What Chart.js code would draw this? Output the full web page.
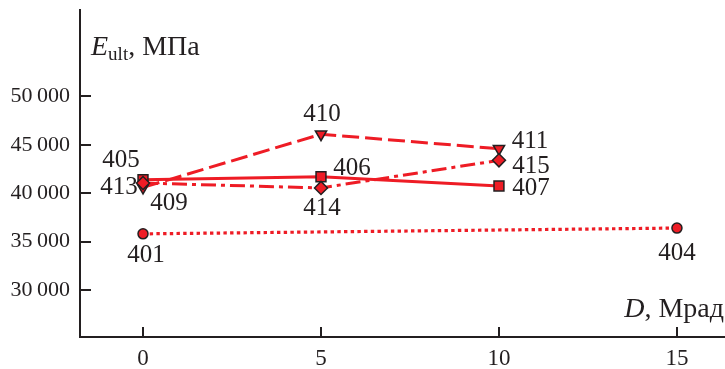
<!DOCTYPE html>
<html>
<head>
<meta charset="utf-8">
<script src="https://cdn.jsdelivr.net/npm/chart.js@4/dist/chart.umd.min.js"></script>
<style>
  html, body { margin: 0; padding: 0; background: #fff; }
  #wrap { width: 725px; height: 369px; position: relative; }
</style>
</head>
<body>
<div id="wrap"><canvas id="c"></canvas></div>
<script>
// Dose, Mrad
const doses = [0, 5, 10];
const dosesLong = [0, 15];

// Ultimate modulus E_ult, MPa, per sample group
const solidValues = [41400, 41700, 40750];     // 405, 406, 407
const dashedValues = [40600, 46100, 44600];    // 409, 410, 411
const dashDotValues = [41050, 40550, 43400];   // 413, 414, 415
const dottedValues = [35800, 36400];           // 401, 404

// Sample numbers shown next to the points
const solidIds = ['405', '406', '407'];
const dashedIds = ['409', '410', '411'];
const dashDotIds = ['413', '414', '415'];
const dottedIds = ['401', '404'];

// Tick values
const xTicks = [0, 5, 10, 15];
const yTicks = [30000, 35000, 40000, 45000, 50000];

const RED = '#ee1c25';
const INK = '#231f20';
const SERIF = '"Liberation Serif", "Times New Roman", serif';

// Where each sample number sits relative to its point (dx, dy in px)
const labelPlacement = {
  '405': [-22, -19], '406': [31, -8], '407': [32, 2],
  '409': [26, 16], '410': [1, -20], '411': [31, -7],
  '413': [-24, 4], '414': [1, 21], '415': [32, 6],
  '401': [3, 22], '404': [0, 25]
};

function pts(xs, ys) { return xs.map((x, i) => ({ x: x, y: ys[i] })); }

function fmt(v) {
  const s = String(v);
  return s.length > 3 ? s.slice(0, s.length - 3) + '\u2009' + s.slice(-3) : s;
}

function noPad(s) {
  s.paddingLeft = 0; s.paddingRight = 0; s.paddingTop = 0; s.paddingBottom = 0;
}

const markerBase = {
  borderColor: RED,
  pointBackgroundColor: RED,
  pointBorderColor: INK,
  pointBorderWidth: 1.5,
  fill: false,
  tension: 0
};

const sampleLabels = {
  id: 'sampleLabels',
  afterDatasetsDraw(chart) {
    const ctx = chart.ctx;
    ctx.save();
    ctx.fillStyle = INK;
    ctx.font = '25px ' + SERIF;
    ctx.textAlign = 'center';
    ctx.textBaseline = 'middle';
    chart.data.datasets.forEach((ds, i) => {
      const meta = chart.getDatasetMeta(i);
      meta.data.forEach((el, j) => {
        const id = ds.ids[j];
        const off = labelPlacement[id] || [0, 0];
        ctx.fillText(id, el.x + off[0], el.y + off[1]);
      });
    });
    ctx.restore();
  }
};

const axisDecor = {
  id: 'axisDecor',
  afterDraw(chart) {
    const ctx = chart.ctx;
    const xs = chart.scales.x, ys = chart.scales.y;
    const area = chart.chartArea;
    ctx.save();
    ctx.strokeStyle = INK;
    ctx.lineWidth = 2;
    // inward tick marks
    ctx.beginPath();
    yTicks.forEach(v => {
      const py = Math.round(ys.getPixelForValue(v));
      ctx.moveTo(area.left, py);
      ctx.lineTo(area.left + 11, py);
    });
    xTicks.forEach(v => {
      const px = Math.round(xs.getPixelForValue(v));
      ctx.moveTo(px, area.bottom);
      ctx.lineTo(px, area.bottom - 10);
    });
    ctx.stroke();

    // axis titles
    ctx.fillStyle = INK;
    ctx.textBaseline = 'alphabetic';
    ctx.textAlign = 'left';
    let x = area.left + 11;
    const yb = 55;
    ctx.font = 'italic 28px ' + SERIF;
    ctx.fillText('E', x, yb);
    x += ctx.measureText('E').width;
    ctx.font = '19px ' + SERIF;
    ctx.fillText('ult', x, yb + 5);
    x += ctx.measureText('ult').width;
    ctx.font = '28px ' + SERIF;
    ctx.fillText(', МПа', x, yb);

    ctx.font = '28px ' + SERIF;
    const tail = ', Мрад';
    const wTail = ctx.measureText(tail).width;
    ctx.font = 'italic 28px ' + SERIF;
    const wD = ctx.measureText('D').width;
    const startX = chart.width - 1 - wTail - wD;
    ctx.fillText('D', startX, 317);
    ctx.font = '28px ' + SERIF;
    ctx.fillText(tail, startX + wD, 317);
    ctx.restore();
  }
};

new Chart(document.getElementById('c'), {
  type: 'line',
  data: {
    datasets: [
      Object.assign({}, markerBase, {
        data: pts(doses, dashDotValues), ids: dashDotIds,
        borderWidth: 3, borderDash: [15, 5, 4, 5],
        pointStyle: 'rectRot', pointRadius: 6.5
      }),
      Object.assign({}, markerBase, {
        data: pts(doses, solidValues), ids: solidIds,
        borderWidth: 3,
        pointStyle: 'rect', pointRadius: 7
      }),
      Object.assign({}, markerBase, {
        data: pts(doses, dashedValues), ids: dashedIds,
        borderWidth: 3, borderDash: [17, 6],
        pointStyle: 'triangle', pointRotation: 180, pointRadius: 6.5
      }),
      Object.assign({}, markerBase, {
        data: pts(dosesLong, dottedValues), ids: dottedIds,
        borderWidth: 3.2, borderDash: [3.4, 3.3],
        pointStyle: 'circle', pointRadius: 5
      })
    ]
  },
  options: {
    responsive: true,
    maintainAspectRatio: false,
    animation: false,
    devicePixelRatio: 1,
    layout: { autoPadding: false, padding: { top: 10, right: 0, left: 0, bottom: 0 } },
    plugins: { legend: { display: false }, tooltip: { enabled: false } },
    elements: { point: { hoverRadius: 6 } },
    scales: {
      x: {
        type: 'linear',
        min: -1.77, max: 16.35,
        afterBuildTicks: s => { s.ticks = xTicks.map(v => ({ value: v })); },
        afterFit: s => { s.height = 32; noPad(s); },
        grid: { display: true, drawOnChartArea: false, drawTicks: false },
        border: { display: true, color: INK, width: 2 },
        ticks: {
          color: INK, padding: 8,
          font: { family: SERIF, size: 23 },
          maxRotation: 0, autoSkip: false,
          callback: v => String(v)
        }
      },
      y: {
        type: 'linear',
        min: 25140, max: 58940,
        afterBuildTicks: s => { s.ticks = yTicks.map(v => ({ value: v })); },
        afterFit: s => { s.width = 80; noPad(s); },
        grid: { display: true, drawOnChartArea: false, drawTicks: false },
        border: { display: true, color: INK, width: 2 },
        ticks: {
          color: INK, padding: 10,
          font: { family: SERIF, size: 22 },
          autoSkip: false,
          callback: v => fmt(v)
        }
      }
    }
  },
  plugins: [sampleLabels, axisDecor]
});
</script>
</body>
</html>
